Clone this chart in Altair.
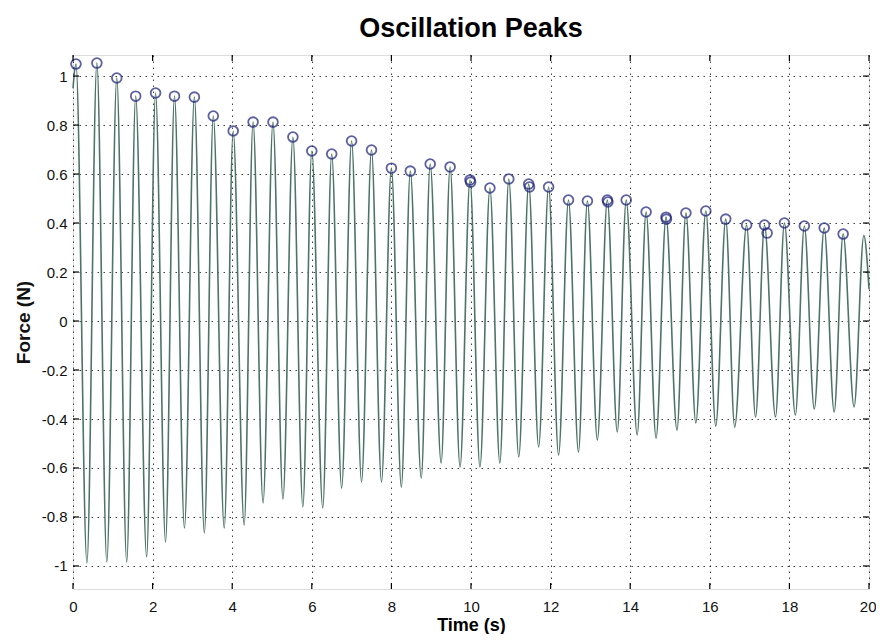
import altair as alt
import pandas as pd

# Peak markers (time s, force N)
peak_t = [0.075, 0.6, 1.1, 1.575, 2.075, 2.55, 3.05, 3.525, 4.025, 4.525,
          5.025, 5.525, 6.0, 6.5, 7.0, 7.5, 8.0, 8.475, 8.975, 9.475,
          9.975, 10.475, 10.95, 11.45, 11.95, 12.45, 12.925, 13.425, 13.9, 14.4,
          14.9, 15.4, 15.9, 16.4, 16.925, 17.375, 17.875, 18.375, 18.875, 19.35]
peak_f = [1.049, 1.053, 0.992, 0.918, 0.931, 0.918, 0.914, 0.837, 0.776, 0.812,
          0.812, 0.751, 0.694, 0.682, 0.735, 0.698, 0.624, 0.612, 0.641, 0.629,
          0.576, 0.543, 0.580, 0.559, 0.547, 0.494, 0.490, 0.494, 0.494, 0.445,
          0.424, 0.441, 0.449, 0.416, 0.392, 0.392, 0.400, 0.388, 0.380, 0.355]
# secondary (overlapping) peak detections
extra_t = [9.99, 11.47, 13.44, 14.91, 17.44]
extra_f = [0.567, 0.547, 0.486, 0.416, 0.359]

# Troughs of the force trace
trough_t = [0.35, 0.85, 1.35, 1.85, 2.325, 2.8, 3.3, 3.8, 4.3, 4.775,
            5.275, 5.775, 6.275, 6.75, 7.25, 7.75, 8.25, 8.75, 9.25, 9.725,
            10.225, 10.725, 11.2, 11.7, 12.2, 12.7, 13.175, 13.675, 14.175, 14.65,
            15.175, 15.65, 16.15, 16.625, 17.15, 17.65, 18.15, 18.625, 19.125, 19.625]
trough_f = [-0.988, -0.984, -0.984, -0.963, -0.902, -0.845, -0.865, -0.845, -0.833, -0.743,
            -0.727, -0.759, -0.763, -0.682, -0.657, -0.657, -0.678, -0.641, -0.580, -0.596,
            -0.596, -0.580, -0.555, -0.514, -0.547, -0.535, -0.486, -0.453, -0.465, -0.478,
            -0.445, -0.416, -0.429, -0.433, -0.392, -0.392, -0.384, -0.359, -0.371, -0.351]
# trace start and end (unmarked last crest)
edge_t = [0.0, 19.87, 20.0]
edge_f = [0.95, 0.349, 0.13]

x_ticks = [0, 2, 4, 6, 8, 10, 12, 14, 16, 18, 20]
y_ticks = [-1, -0.8, -0.6, -0.4, -0.2, 0, 0.2, 0.4, 0.6, 0.8, 1]

trace = pd.DataFrame({
    "t": peak_t + trough_t + edge_t,
    "f": peak_f + trough_f + edge_f,
}).sort_values("t")
markers = pd.DataFrame({"t": peak_t + extra_t, "f": peak_f + extra_f})

W, H = 796, 534
FONT = "Liberation Sans"
xs = alt.Scale(domain=[0, 20], nice=False, zero=False)
ys = alt.Scale(domain=[-1.094, 1.086], nice=False, zero=False)

xax = alt.Axis(values=x_ticks, grid=True, gridDash=[1.5, 4.5], gridColor="#000",
               gridOpacity=0.75, domain=False, ticks=False, labelPadding=10,
               labelFontSize=15, labelFont=FONT, labelColor="#111",
               labelExpr="'' + datum.value",
               labelAlign={"expr": "datum.value == 20 ? 'right' : 'center'"},
               labelOffset={"expr": "datum.value == 20 ? 7 : 0"},
               title="Time (s)", titleFontSize=18, titleFont=FONT, titleFontWeight="bold",
               titlePadding=2, titleColor="#000", labelFlush=False)
yax = alt.Axis(values=y_ticks, grid=True, gridDash=[1.5, 4.5], gridColor="#000",
               gridOpacity=0.75, domain=False, ticks=False, labelPadding=6,
               labelFontSize=15, labelFont=FONT, labelColor="#111",
               labelExpr="'' + datum.value",
               title="Force (N)", titleFontSize=19, titleFont=FONT,
               titleFontWeight="bold", titlePadding=8, titleColor="#111",
               labelFlush=False)

line = alt.Chart(trace).mark_line(
    interpolate="monotone", color="#4d7468", strokeWidth=1.6
).encode(
    x=alt.X("t:Q", scale=xs, axis=xax),
    y=alt.Y("f:Q", scale=ys, axis=yax),
)

pts = alt.Chart(markers).mark_point(
    shape="circle", filled=False, size=95, color="#1b1f78", strokeWidth=1.8
).encode(x=alt.X("t:Q", scale=xs), y=alt.Y("f:Q", scale=ys))

TL = 6
xt = pd.DataFrame({"v": x_ticks})
yt = pd.DataFrame({"v": y_ticks})
tick_bot = alt.Chart(xt).mark_rule(color="#000", strokeWidth=1.2).encode(
    x=alt.X("v:Q", scale=xs), y=alt.value(H), y2=alt.value(H - TL))
tick_top = alt.Chart(xt).mark_rule(color="#000", strokeWidth=1.2).encode(
    x=alt.X("v:Q", scale=xs), y=alt.value(0), y2=alt.value(TL))
tick_left = alt.Chart(yt).mark_rule(color="#000", strokeWidth=1.2).encode(
    y=alt.Y("v:Q", scale=ys), x=alt.value(0), x2=alt.value(TL))
tick_right = alt.Chart(yt).mark_rule(color="#000", strokeWidth=1.2).encode(
    y=alt.Y("v:Q", scale=ys), x=alt.value(W), x2=alt.value(W - TL))

chart = alt.layer(line, pts, tick_bot, tick_top, tick_left, tick_right).properties(
    width=W, height=H,
    title=alt.TitleParams("Oscillation Peaks", font=FONT, fontSize=27,
                          fontWeight="bold", color="#000", anchor="middle", offset=11),
    autosize=alt.AutoSizeParams(type="none"),
    padding={"left": 65, "top": 47, "right": 7, "bottom": 45},
).configure_view(stroke="#000", strokeWidth=1.3).configure(background="white")

chart.save("out.html", embed_options={"renderer": "svg", "actions": False})
